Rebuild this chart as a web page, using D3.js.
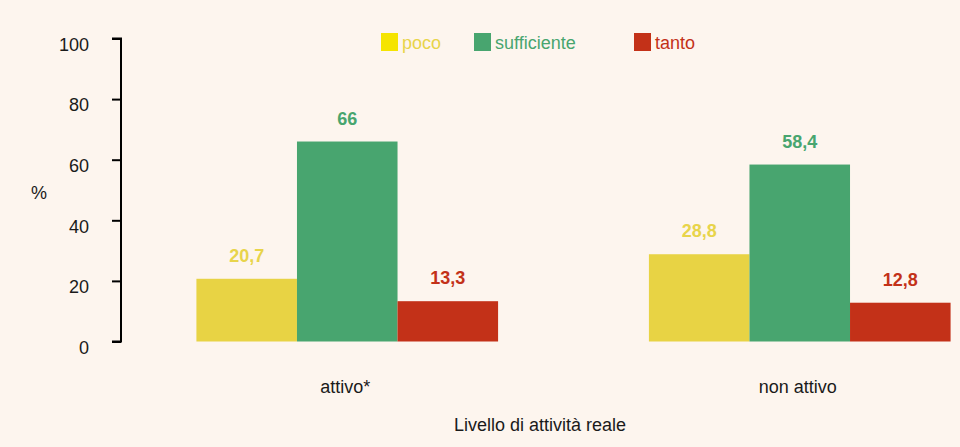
<!DOCTYPE html>
<html><head><meta charset="utf-8">
<script src="https://cdn.jsdelivr.net/npm/d3@7"></script>
<style>
html,body{margin:0;padding:0;background:#fdf5ee;}
svg{display:block;font-family:"Liberation Sans",Arial,sans-serif;}
</style></head>
<body>
<svg id="chart" width="960" height="447"></svg>
<script>
const categories = ["attivo*", "non attivo"];
const seriesNames = ["poco", "sufficiente", "tanto"];
const poco = [20.7, 28.8];
const sufficiente = [66, 58.4];
const tanto = [13.3, 12.8];
const yTicks = [0, 20, 40, 60, 80, 100];
const barColors = ["#e8d344", "#48a56f", "#c33118"];
const legendSwatch = ["#f5e400", "#48a56f", "#c33118"];
const textColors = ["#e8d44a", "#48a56f", "#c33118"];

const values = [poco, sufficiente, tanto];
const svg = d3.select("#chart");
svg.append("rect").attr("width", 960).attr("height", 447).attr("fill", "#fdf5ee");

const y = d3.scaleLinear().domain([0, 100]).range([341.5, 38.5]);
const x0 = d3.scaleBand().domain(categories).range([121, 1026]).padding(0);
const x1 = d3.scaleBand().domain(seriesNames).range([0, x0.bandwidth()]).paddingInner(0).paddingOuter(0.75);
const fmt = d3.formatLocale({decimal: ",", thousands: ".", grouping: [3], currency: ["", "€"]}).format("~g");

// y axis
const yAxis = d3.axisLeft(y).tickValues(yTicks).tickSize(9).tickPadding(0).tickFormat(d3.format("d"));
const ga = svg.append("g").attr("transform", "translate(121,0)").call(yAxis);
ga.select(".domain").attr("stroke", "#000").attr("stroke-width", 2).attr("d", "M-9," + y(100) + "H0V" + y(0) + "H-9");
ga.selectAll(".tick line").attr("stroke", "#000").attr("stroke-width", 2);
ga.selectAll(".tick text").attr("font-size", 18).attr("fill", "#1a1a1a")
  .attr("x", -32).attr("dy", "0.65em").attr("font-family", "'Liberation Sans', Arial, sans-serif");

svg.append("text").attr("x", 39).attr("y", 199).attr("text-anchor", "middle")
  .attr("font-size", 18).attr("fill", "#1a1a1a").text("%");

// bars
const groups = svg.append("g").selectAll("g").data(categories).join("g")
  .attr("transform", d => `translate(${x0(d)},0)`);
groups.each(function(cat, ci) {
  const g = d3.select(this);
  seriesNames.forEach((s, si) => {
    const v = values[si][ci];
    g.append("rect").attr("x", x1(s)).attr("width", x1.bandwidth())
      .attr("y", y(v)).attr("height", y(0) - y(v)).attr("fill", barColors[si]);
    g.append("text").attr("x", x1(s) + x1.bandwidth() / 2).attr("y", y(v) - 17)
      .attr("text-anchor", "middle").attr("font-size", 18).attr("font-weight", "bold")
      .attr("fill", textColors[si]).text(fmt(v));
  });
  g.append("text").attr("x", x0.bandwidth() / 2 - 2).attr("y", 393).attr("text-anchor", "middle")
    .attr("font-size", 18).attr("fill", "#1a1a1a").text(cat);
});

svg.append("text").attr("x", 540).attr("y", 431).attr("text-anchor", "middle")
  .attr("font-size", 18).attr("fill", "#1a1a1a").text("Livello di attività reale");

// legend
const legendX = [381, 474, 634];
seriesNames.forEach((s, i) => {
  svg.append("rect").attr("x", legendX[i]).attr("y", 33).attr("width", 17).attr("height", 18).attr("fill", legendSwatch[i]);
  svg.append("text").attr("x", legendX[i] + 21).attr("y", 49).attr("font-size", 18)
    .attr("fill", textColors[i]).text(s);
});
</script>
</body></html>
